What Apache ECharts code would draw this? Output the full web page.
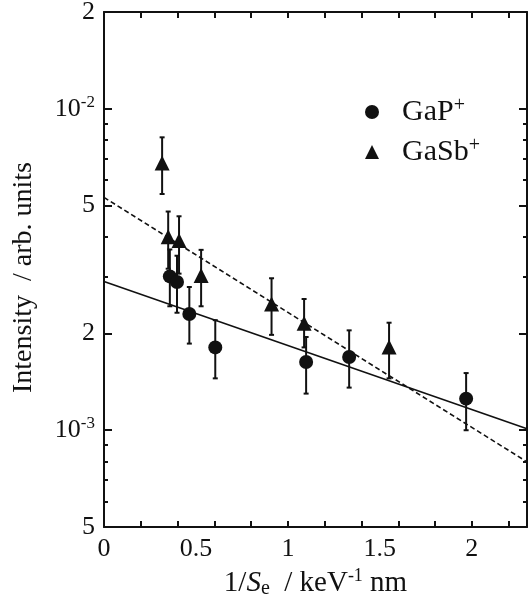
<!DOCTYPE html>
<html><head><meta charset="utf-8">
<script src="https://cdn.jsdelivr.net/npm/echarts@6/dist/echarts.min.js"></script>
<style>html,body{margin:0;padding:0;background:#fff}#c{width:528px;height:599px}</style>
</head><body><div id="c"></div>
<script>
// ---- data ----
const gapX    = [0.358, 0.397, 0.464, 0.605, 1.099, 1.333, 1.969];
const gapY    = [3.01e-3, 2.89e-3, 2.30e-3, 1.81e-3, 1.63e-3, 1.69e-3, 1.254e-3];
const gapLow  = [2.43e-3, 2.32e-3, 1.86e-3, 1.45e-3, 1.30e-3, 1.357e-3, 1.00e-3];
const gapHigh = [3.65e-3, 3.49e-3, 2.79e-3, 2.20e-3, 1.95e-3, 2.045e-3, 1.506e-3];
const gasbX    = [0.316, 0.349, 0.408, 0.528, 0.911, 1.088, 1.550];
const gasbY    = [6.78e-3, 4.00e-3, 3.89e-3, 3.03e-3, 2.47e-3, 2.15e-3, 1.815e-3];
const gasbLow  = [5.43e-3, 3.18e-3, 3.07e-3, 2.43e-3, 1.98e-3, 1.81e-3, 1.45e-3];
const gasbHigh = [8.15e-3, 4.79e-3, 4.63e-3, 3.64e-3, 2.97e-3, 2.56e-3, 2.16e-3];
const fitX     = [0, 2.3];
const gapFit   = [2.90e-3, 1.01e-3];
const gasbFit  = [5.30e-3, 7.97e-4];
const xTickLabels = [0, 0.5, 1, 1.5, 2];
const xTickMarks  = [0, 0.2, 0.4, 0.6, 0.8, 1, 1.2, 1.4, 1.6, 1.8, 2, 2.2];
const yTickLabels = [5e-4, 1e-3, 2e-3, 5e-3, 1e-2, 2e-2];
const yMinorTicks = [6e-4, 7e-4, 8e-4, 9e-4, 3e-3, 4e-3, 6e-3, 7e-3, 8e-3, 9e-3];
const seriesNames = ['GaP', 'GaSb'];

const FONT = 'Liberation Serif';
const supStyle = {fontSize: 17, fontFamily: FONT, verticalAlign: 'top', lineHeight: 30, color: '#111'};

function yFmt(v) {
  const e = Math.round(Math.log10(v));
  if (Math.abs(v - Math.pow(10, e)) < 1e-12) return '10{sup|' + e + '}';
  return String(Math.round(v / Math.pow(10, Math.floor(Math.log10(v)) )));
}

function errRender(params, api) {
  const x = api.value(0), lo = api.value(1), hi = api.value(2);
  const a = api.coord([x, lo]), b = api.coord([x, hi]);
  const w = 2.5, st = {stroke: '#111', lineWidth: 2};
  return {type: 'group', children: [
    {type: 'line', shape: {x1: a[0], y1: a[1], x2: b[0], y2: b[1]}, style: st},
    {type: 'line', shape: {x1: a[0] - w, y1: a[1], x2: a[0] + w, y2: a[1]}, style: st},
    {type: 'line', shape: {x1: b[0] - w, y1: b[1], x2: b[0] + w, y2: b[1]}, style: st}
  ]};
}

const axisLine = {show: true, lineStyle: {color: '#111', width: 2}};
const xRange = {min: 0, max: 2.3};
const yRange = {type: 'log', logBase: 10, min: 5e-4, max: 2e-2};

const option = {
  animation: false,
  backgroundColor: '#fff',
  grid: {left: 104, right: 1, top: 12, bottom: 72, containLabel: false, outerBoundsMode: 'none'},
  legend: {
    left: 360, top: 91, orient: 'vertical', itemGap: 8,
    itemWidth: 14, itemHeight: 14,
    data: [{name: seriesNames[0], icon: 'circle'}, {name: seriesNames[1], icon: 'triangle'}],
    formatter: n => n + '{sup|+}',
    textStyle: {fontSize: 30, fontFamily: FONT, color: '#111', lineHeight: 32, padding: [0, 0, 0, 18],
      rich: {sup: {fontSize: 20, fontFamily: FONT, verticalAlign: 'top', lineHeight: 32, color: '#111'}}}
  },
  xAxis: [
    Object.assign({type: 'value', position: 'bottom', axisLine,
      name: '1/{i|S}{sub|e}  / keV{sup|-1} nm', nameLocation: 'middle', nameGap: 36,
      nameTextStyle: {fontSize: 29, fontFamily: FONT, color: '#111', lineHeight: 32,
        rich: {i: {fontSize: 29, fontStyle: 'italic', fontFamily: FONT, color: '#111', lineHeight: 32},
               sub: {fontSize: 20, fontFamily: FONT, verticalAlign: 'bottom', lineHeight: 28, color: '#111'},
               sup: {fontSize: 18, fontFamily: FONT, verticalAlign: 'top', lineHeight: 32, color: '#111'}}},
      splitLine: {show: false},
      axisTick: {show: true, inside: true, length: 6, lineStyle: {color: '#111', width: 2}, customValues: xTickMarks},
      axisLabel: {customValues: xTickLabels, fontSize: 26, fontFamily: FONT, color: '#111', margin: 9,
        formatter: v => String(v)}}, xRange),
    Object.assign({type: 'value', position: 'top', axisLine,
      splitLine: {show: false},
      axisTick: {show: true, inside: true, length: 6, lineStyle: {color: '#111', width: 2}, customValues: xTickMarks},
      axisLabel: {show: false}}, xRange)
  ],
  yAxis: [
    Object.assign({position: 'left', axisLine,
      name: 'Intensity  / arb. units', nameLocation: 'middle', nameGap: 66, nameRotate: 90,
      nameTextStyle: {fontSize: 28, fontFamily: FONT, color: '#111', padding: [0, 16, 0, 0]},
      splitLine: {show: false}, minorTick: {show: false},
      axisTick: {show: true, inside: true, length: 8, lineStyle: {color: '#111', width: 2}, customValues: yTickLabels},
      axisLabel: {customValues: yTickLabels, fontSize: 26, fontFamily: FONT, color: '#111', margin: 9,
        formatter: yFmt, rich: {sup: supStyle}}}, yRange),
    Object.assign({position: 'left', axisLine: {show: false}, splitLine: {show: false},
      axisTick: {show: true, inside: true, length: 4, lineStyle: {color: '#111', width: 2}, customValues: yMinorTicks},
      axisLabel: {show: false}}, yRange),
    Object.assign({position: 'right', axisLine, splitLine: {show: false},
      axisTick: {show: true, inside: true, length: 8, lineStyle: {color: '#111', width: 2}, customValues: yTickLabels},
      axisLabel: {show: false}}, yRange),
    Object.assign({position: 'right', axisLine: {show: false}, splitLine: {show: false},
      axisTick: {show: true, inside: true, length: 4, lineStyle: {color: '#111', width: 2}, customValues: yMinorTicks},
      axisLabel: {show: false}}, yRange)
  ],
  series: [
    {type: 'line', name: 'GaP fit', data: fitX.map((x, i) => [x, gapFit[i]]), symbol: 'none',
      lineStyle: {color: '#111', width: 1.6}, z: 2, silent: true},
    {type: 'line', name: 'GaSb fit', data: fitX.map((x, i) => [x, gasbFit[i]]), symbol: 'none',
      lineStyle: {color: '#111', width: 1.6, type: [5, 3]}, z: 2, silent: true},
    {type: 'custom', name: 'GaP err', renderItem: errRender, data: gapX.map((x, i) => [x, gapLow[i], gapHigh[i]]), z: 3},
    {type: 'custom', name: 'GaSb err', renderItem: errRender, data: gasbX.map((x, i) => [x, gasbLow[i], gasbHigh[i]]), z: 3},
    {type: 'scatter', name: seriesNames[0], symbol: 'circle', symbolSize: 14,
      data: gapX.map((x, i) => [x, gapY[i]]), itemStyle: {color: '#111', opacity: 1}, z: 4},
    {type: 'scatter', name: seriesNames[1], symbol: 'triangle', symbolSize: 15,
      data: gasbX.map((x, i) => [x, gasbY[i]]), itemStyle: {color: '#111', opacity: 1}, z: 4}
  ]
};
const chart = echarts.init(document.getElementById('c'), null, {renderer: 'canvas'});
chart.setOption(option);
</script>
</body></html>
